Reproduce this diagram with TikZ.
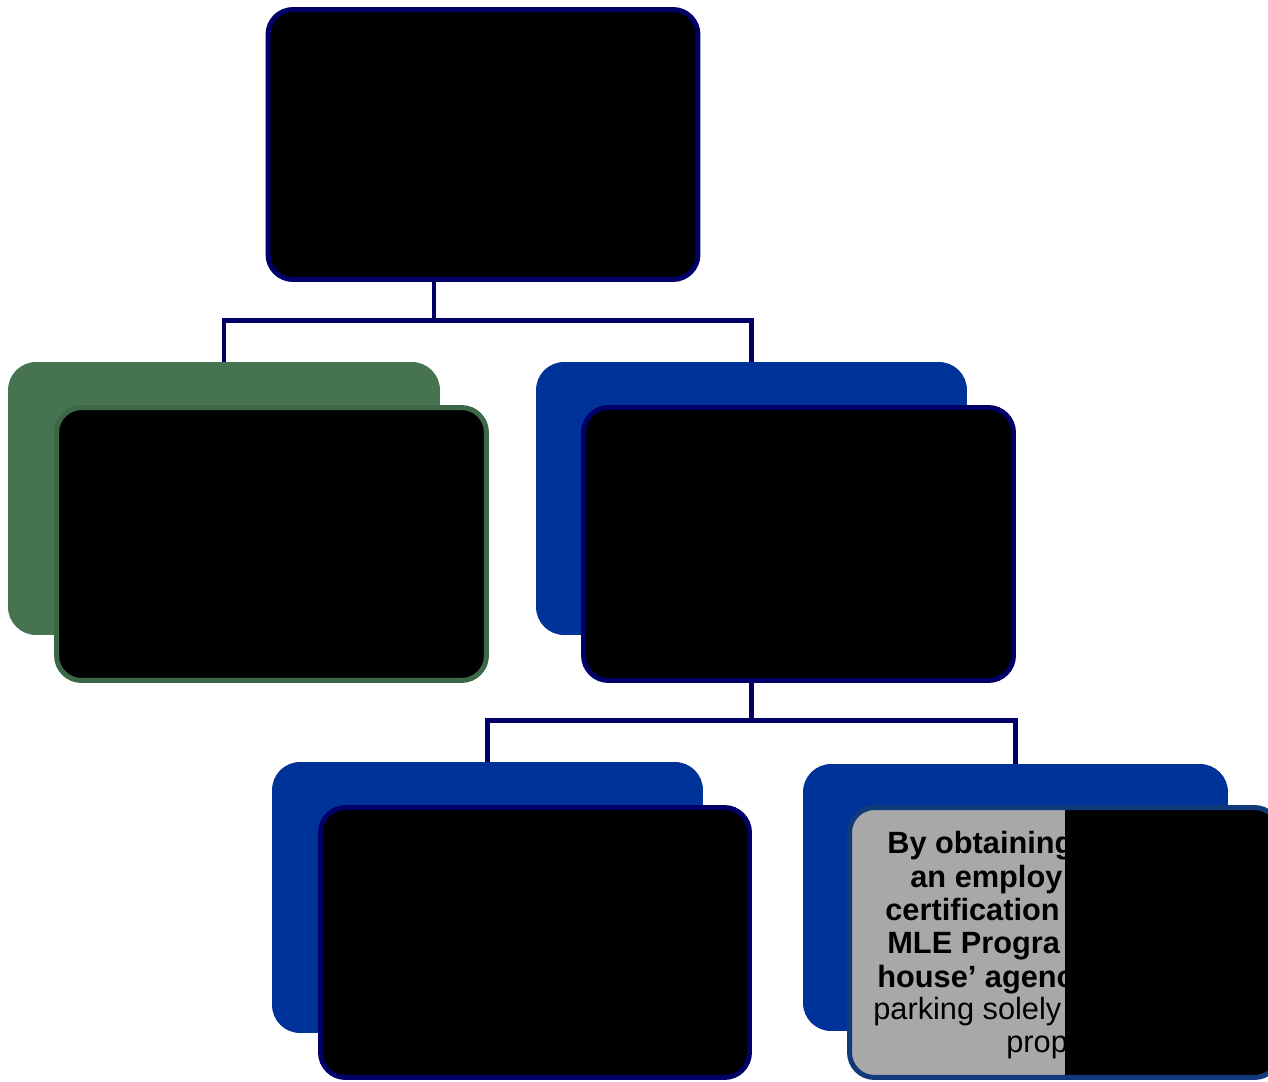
\documentclass[tikz,border=0pt]{standalone}
\usepackage{fontspec}
\setmainfont{Liberation Sans}
\usepackage{xcolor}
\usepackage{tikz}

\definecolor{azulosc}{RGB}{0,0,102}
\definecolor{azulfondo}{RGB}{0,51,153}
\definecolor{verdefondo}{RGB}{70,115,80}
\definecolor{verdeborde}{RGB}{61,104,72}
\definecolor{azulborde}{RGB}{16,58,122}
\definecolor{gristrama}{RGB}{168,168,168}

\begin{document}
\begin{tikzpicture}[x=0.02cm, y=-0.02cm,
	fondo/.style={rectangle, rounded corners=0.56cm, inner sep=0pt, minimum width=8.62cm, minimum height=5.46cm},
	tarjeta/.style={rectangle, rounded corners=0.5cm, draw=azulosc, line width=2.85pt, fill=black, inner sep=0pt, minimum width=8.6cm, minimum height=5.46cm},
	enlace/.style={draw=azulosc, line width=2.7pt},
	linea/.style={anchor=base west, inner sep=0pt, font=\fontsize{17.5}{21}\selectfont}]

	% Marco de la figura
	\useasboundingbox (0,0) rectangle (1268,1082);
	\clip (0,0) rectangle (1268,1082);

	% Caja superior
	\node[tarjeta, minimum height=5.4cm] (raiz) at (483,144.5) {};

	% Segundo nivel (fondo de color + tarjeta negra)
	\node[fondo, fill=verdefondo, minimum width=8.64cm] (izqfondo) at (224,498.5) {};
	\node[tarjeta, draw=verdeborde] (izq) at (271.5,544) {};
	\node[fondo, fill=azulfondo] (medfondo) at (751.5,498.5) {};
	\node[tarjeta] (med) at (798.5,544) {};

	% Tercer nivel
	\node[fondo, fill=azulfondo, minimum height=5.42cm] (bajfondo) at (487.5,897.5) {};
	\node[tarjeta, minimum width=8.58cm, minimum height=5.4cm] (baj) at (535,942.5) {};
	\node[fondo, fill=azulfondo, minimum width=8.5cm, minimum height=5.34cm] (derfondo) at (1015.5,897.5) {};
	\node[tarjeta, draw=azulborde, fill=gristrama, minimum height=5.4cm,
		path picture={\fill[black, sharp corners] (path picture bounding box.north) rectangle (path picture bounding box.south east);}] (der) at (1064.5,942.5) {};

	% Conectores
	\coordinate (union1) at (434,320.5);
	\draw[enlace] (raiz.south -| union1) -- (union1);
	\draw[enlace] (izqfondo.north) |- (union1) -| (medfondo.north);
	\coordinate (union2) at (751.5,720.5);
	\draw[enlace] (med.south -| union2) -- (union2);
	\draw[enlace] (bajfondo.north) |- (union2) -| (derfondo.north);

	% Texto de la caja gris
	\foreach \x/\y/\peso/\texto [count=\n] in {
		887/853/\bfseries/By obtaining,
		910/887/\bfseries/an employ,
		885/920/\bfseries/certification,
		887/953/\bfseries/MLE Progra,
		877/987/\bfseries/house’ agenc,
		873/1019/\mdseries/parking solely,
		1006/1052/\mdseries/prop}
		\node[linea] (texto\n) at (\x,\y) {\peso\texto};

\end{tikzpicture}
\end{document}
